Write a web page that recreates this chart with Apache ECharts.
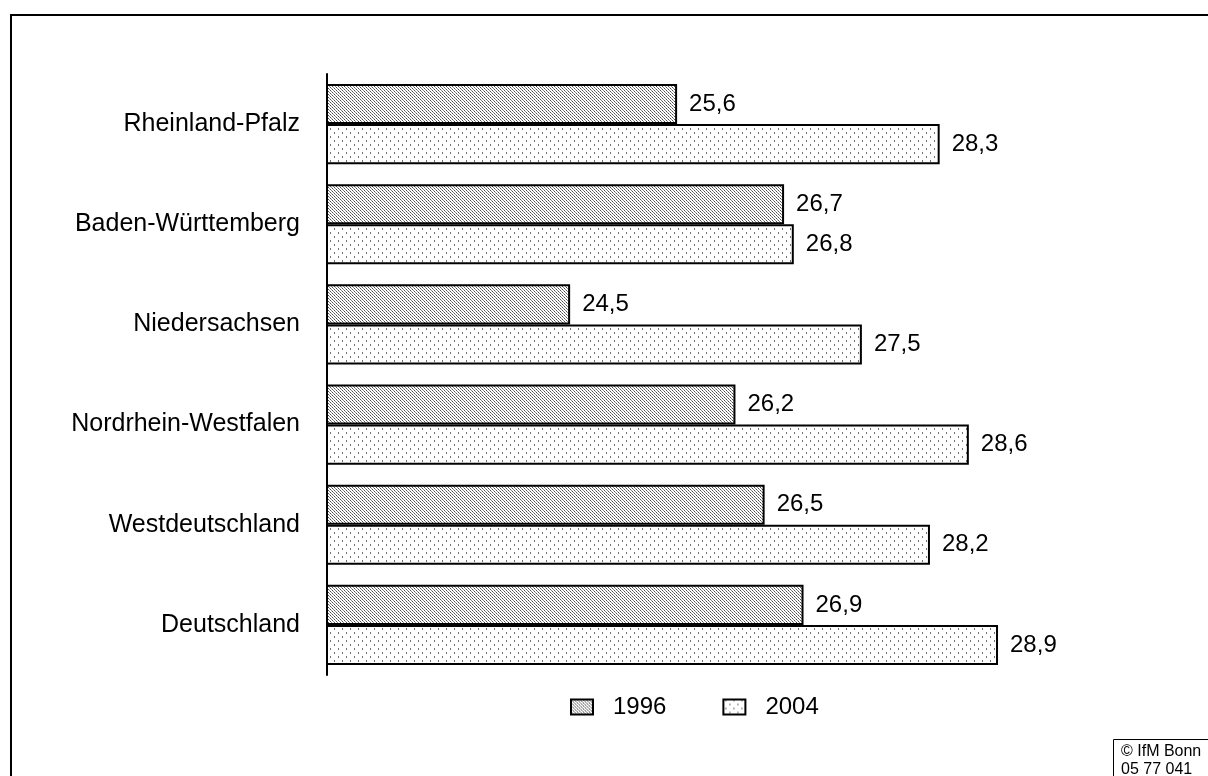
<!DOCTYPE html>
<html>
<head>
<meta charset="utf-8">
<script src="https://cdn.jsdelivr.net/npm/echarts@6/dist/echarts.min.js"></script>
<style>
  html, body { margin: 0; padding: 0; background: #fff; }
  #chart { width: 1208px; height: 776px; }
</style>
</head>
<body>
<div id="chart"></div>
<script>
// Regions, top to bottom
const regions = ['Rheinland-Pfalz', 'Baden-Württemberg', 'Niedersachsen', 'Nordrhein-Westfalen', 'Westdeutschland', 'Deutschland'];
// Values per year
const values1996 = [25.6, 26.7, 24.5, 26.2, 26.5, 26.9];
const values2004 = [28.3, 26.8, 27.5, 28.6, 28.2, 28.9];
const years = ['1996', '2004'];

const FONT = '"Liberation Sans", Arial, sans-serif';

// Diagonal hatch fill (lines running down to the right)
function hatchPattern() {
  const c = document.createElement('canvas');
  c.width = 6; c.height = 6;
  const g = c.getContext('2d');
  g.fillStyle = '#ffffff';
  g.fillRect(0, 0, 6, 6);
  for (let y = 0; y < 6; y++) {
    for (let x = 0; x < 6; x++) {
      if (((x - y) % 3 + 3) % 3 === 0) {
        g.fillStyle = (x % 2 === 0) ? '#4d4d4d' : '#8a8a8a';
        g.fillRect(x, y, 1, 1);
      }
    }
  }
  return c;
}

// Sparse dotted fill
function dotPattern() {
  const c = document.createElement('canvas');
  c.width = 8; c.height = 8;
  const g = c.getContext('2d');
  g.fillStyle = '#ffffff';
  g.fillRect(0, 0, 8, 8);
  g.fillStyle = '#707070';
  g.fillRect(2, 0, 1, 2);
  g.fillRect(6, 4, 1, 2);
  return c;
}

const fill1996 = { image: hatchPattern(), repeat: 'repeat' };
const fill2004 = { image: dotPattern(), repeat: 'repeat' };

const labelFmt = p => String(p.value.toFixed(1)).replace('.', ',');
const valueLabel = { show: true, position: 'right', distance: 12, color: '#000', fontFamily: FONT, fontSize: 24, formatter: labelFmt };

const chart = echarts.init(document.getElementById('chart'), null, { renderer: 'canvas' });
chart.setOption({
  animation: false,
  backgroundColor: '#ffffff',
  grid: { left: 327, right: 103, top: 74, bottom: 101, containLabel: false },
  xAxis: {
    type: 'value', min: 22, max: 30,
    axisLine: { show: false }, axisTick: { show: false },
    axisLabel: { show: false }, splitLine: { show: false }
  },
  yAxis: {
    type: 'category', data: regions, inverse: true,
    axisLine: { show: true, lineStyle: { color: '#000', width: 2 } },
    axisTick: { show: false },
    axisLabel: { color: '#000', fontFamily: FONT, fontSize: 25, margin: 27, padding: [5, 0, 0, 0] }
  },
  legend: {
    data: years, top: 690, left: 565, itemGap: 56,
    icon: 'rect', itemWidth: 22, itemHeight: 15,
    itemStyle: { borderColor: '#000', borderWidth: 2 },
    textStyle: { color: '#000', fontFamily: FONT, fontSize: 24, padding: [0, 0, 0, 15] }
  },
  series: [
    {
      name: years[0], type: 'bar', data: values1996,
      barCategoryGap: '20%', barGap: '0%',
      itemStyle: { color: fill1996, borderColor: '#000', borderWidth: 2 },
      label: valueLabel
    },
    {
      name: years[1], type: 'bar', data: values2004,
      barCategoryGap: '20%', barGap: '0%',
      itemStyle: { color: fill2004, borderColor: '#000', borderWidth: 2 },
      label: valueLabel
    }
  ],
  graphic: [
    { type: 'rect', shape: { x: 11, y: 15, width: 1240, height: 800 }, style: { fill: 'none', stroke: '#000', lineWidth: 2 }, z: 100 },
    { type: 'rect', shape: { x: 1113.5, y: 739.5, width: 120, height: 60 }, style: { fill: '#fff', stroke: '#000', lineWidth: 1 }, z: 101 },
    { type: 'text', x: 1121, y: 744, style: { text: '© IfM Bonn', fill: '#000', font: '16px ' + FONT }, z: 102 },
    { type: 'text', x: 1121, y: 762, style: { text: '05 77 041', fill: '#000', font: '16px ' + FONT }, z: 102 }
  ]
});
</script>
</body>
</html>
